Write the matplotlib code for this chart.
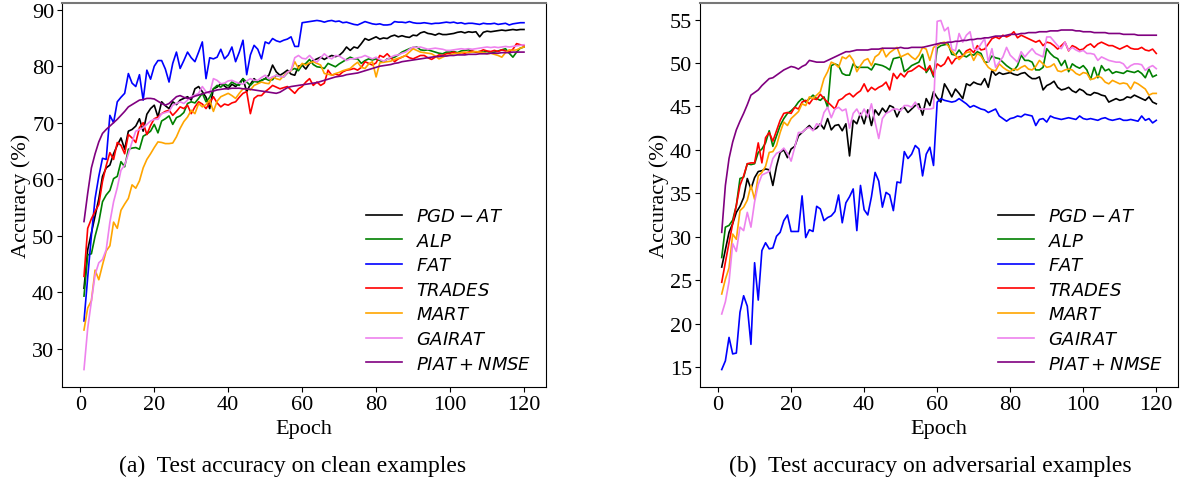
import numpy as np
import matplotlib
matplotlib.use("Agg")
import matplotlib.pyplot as plt

epochs = np.arange(1, 121)

labels = [r'$PGD-AT$', r'$ALP$', r'$FAT$', r'$TRADES$', r'$MART$', r'$GAIRAT$', r'$PIAT+NMSE$']
colors = ['black', 'green', 'blue', 'red', 'orange', 'violet', 'purple']

# ---------------- clean accuracy ----------------
clean_pgd = [40.7, 47.5, 50.5, 53.5, 56.5, 60.5, 62.0, 62.5, 64.5, 66.0,
             67.3, 65.3, 68.5, 68.8, 69.4, 70.7, 68.5, 71.5, 72.5, 73.1,
             71.0, 73.7, 73.0, 72.5, 73.7, 73.2, 74.0, 74.3, 74.6, 74.0,
             76.0, 76.4, 75.5, 74.5, 72.5, 76.0, 76.3, 76.9, 76.5, 76.0,
             76.8, 76.4, 77.0, 77.8, 75.5, 76.8, 77.8, 77.2, 77.5, 77.8,
             78.4, 80.2, 79.0, 78.4, 78.8, 79.3, 78.6, 78.4, 80.0, 80.2,
             79.5, 80.5, 81.0, 81.3, 81.6, 81.2, 81.6, 81.9, 81.7, 81.9,
             82.5, 83.4, 82.8, 83.4, 83.2, 84.0, 84.9, 84.6, 84.9, 85.2,
             84.8, 85.0, 84.9, 85.3, 85.5, 85.2, 85.4, 85.2, 85.1, 85.5,
             85.4, 85.9, 86.1, 85.8, 85.7, 85.5, 85.8, 85.6, 85.6, 85.7,
             85.8, 86.0, 86.1, 85.9, 86.1, 86.0, 86.1, 85.2, 86.0, 86.2,
             86.1, 86.2, 86.3, 86.4, 86.3, 86.4, 86.5, 86.4, 86.5, 86.5]

clean_alp = [39.3, 46.6, 46.8, 49.9, 52.4, 56.0, 57.2, 58.0, 60.1, 60.5,
             63.1, 62.2, 65.3, 65.5, 65.6, 65.3, 67.6, 68.0, 68.5, 69.7,
             68.2, 70.3, 70.7, 71.2, 69.7, 70.9, 71.2, 71.8, 73.4, 73.7,
             73.5, 74.3, 75.2, 73.7, 74.5, 76.0, 76.6, 76.3, 76.9, 76.5,
             77.2, 76.8, 76.6, 77.8, 77.2, 76.6, 77.3, 77.2, 77.5, 77.8,
             77.5, 77.6, 78.4, 78.2, 78.1, 78.8, 79.3, 79.6, 79.2, 80.2,
             80.5, 81.2, 80.3, 79.9, 79.8, 79.6, 80.5, 80.2, 79.9, 80.4,
             80.8, 81.2, 81.6, 81.3, 81.3, 80.5, 81.0, 81.3, 81.1, 81.3,
             81.0, 80.7, 81.3, 81.4, 81.6, 82.0, 82.5, 82.8, 83.1, 83.3,
             83.4, 82.9, 82.8, 82.9, 82.7, 82.5, 82.3, 82.2, 82.5, 82.5,
             82.6, 82.4, 82.7, 82.8, 82.9, 82.6, 82.5, 82.6, 82.5, 82.6,
             82.4, 82.5, 82.7, 82.9, 83.1, 82.3, 81.6, 82.5, 83.2, 83.4]

clean_fat = [34.9, 42.6, 50.0, 56.6, 60.5, 63.7, 63.5, 71.3, 70.0, 73.7,
             74.5, 75.2, 78.7, 77.0, 76.4, 78.5, 74.0, 79.3, 77.7, 80.0,
             81.0, 81.0, 79.5, 77.2, 80.5, 82.5, 79.6, 81.0, 82.5, 81.5,
             80.8, 82.5, 84.3, 77.8, 81.5, 81.3, 81.6, 83.0, 81.3, 82.0,
             83.4, 80.8, 82.5, 84.6, 78.5, 82.0, 83.7, 83.0, 81.3, 84.3,
             84.0, 84.9, 84.5, 84.3, 84.6, 84.8, 85.2, 83.5, 83.5, 87.7,
             87.8, 87.9, 88.0, 88.1, 88.0, 87.8, 88.0, 88.1, 87.9, 88.0,
             87.7, 87.8, 87.6, 87.4, 87.3, 87.6, 87.9, 87.7, 87.5, 87.4,
             87.5, 87.3, 87.3, 87.4, 87.9, 87.8, 87.8, 87.7, 87.9, 87.7,
             87.6, 87.6, 87.7, 87.6, 87.5, 87.6, 87.6, 87.7, 87.8, 87.7,
             87.8, 87.6, 87.7, 87.5, 87.6, 87.6, 87.5, 87.4, 87.6, 87.5,
             87.5, 87.6, 87.4, 87.5, 87.6, 87.3, 87.5, 87.6, 87.7, 87.7]

clean_trades = [42.8, 51.3, 53.0, 54.3, 55.5, 59.6, 62.4, 64.7, 63.5, 66.5,
                66.0, 64.5, 67.9, 67.3, 66.5, 69.1, 70.0, 67.9, 69.5, 70.7,
                71.0, 71.6, 72.0, 72.2, 71.3, 72.0, 72.8, 72.5, 73.1, 71.6,
                72.8, 73.7, 73.3, 72.5, 73.5, 74.6, 73.5, 72.8, 73.3, 73.1,
                73.5, 73.7, 74.5, 75.2, 75.5, 71.6, 74.3, 74.8, 74.8, 75.5,
                76.0, 76.6, 76.3, 76.0, 76.2, 76.4, 75.8, 75.2, 76.0, 76.4,
                77.2, 77.8, 76.6, 77.2, 76.6, 77.0, 79.3, 78.4, 78.6, 78.4,
                79.0, 79.3, 79.4, 79.6, 79.3, 79.8, 80.8, 80.5, 80.2, 80.6,
                81.9, 81.6, 82.2, 81.5, 80.8, 81.3, 81.6, 81.9, 81.5, 81.3,
                81.6, 81.9, 81.9, 81.5, 81.2, 81.6, 82.0, 81.9, 82.2, 82.3,
                82.5, 82.2, 82.4, 82.3, 82.5, 82.7, 82.5, 82.6, 82.9, 82.7,
                82.6, 82.8, 82.6, 82.9, 82.7, 82.5, 83.0, 84.0, 83.8, 83.6]

clean_mart = [33.3, 37.2, 38.5, 43.9, 42.2, 44.8, 47.3, 48.2, 52.4, 51.3,
              54.5, 55.6, 56.6, 59.0, 58.4, 59.7, 62.0, 63.5, 64.5, 65.6,
              66.6, 66.5, 66.3, 66.3, 66.4, 67.5, 69.0, 70.2, 71.0, 72.2,
              71.6, 73.4, 72.8, 73.2, 74.0, 72.0, 73.8, 74.6, 74.9, 75.2,
              74.8, 74.3, 75.2, 76.0, 76.0, 75.8, 76.6, 76.9, 77.2, 77.0,
              76.9, 78.1, 77.8, 77.6, 78.3, 78.9, 79.2, 80.8, 79.6, 80.5,
              80.2, 80.6, 80.8, 80.5, 80.2, 78.7, 78.6, 78.4, 78.7, 78.9,
              79.2, 79.4, 79.6, 80.2, 80.7, 79.8, 79.6, 80.4, 80.8, 78.1,
              80.6, 80.7, 80.8, 80.9, 81.2, 81.4, 81.6, 81.9, 82.5, 83.1,
              82.8, 82.5, 82.4, 82.3, 82.2, 81.8, 81.3, 81.6, 81.9, 82.0,
              82.2, 82.3, 82.4, 82.5, 82.4, 82.5, 82.6, 82.5, 82.4, 82.2,
              82.3, 82.1, 81.9, 81.6, 82.4, 82.9, 82.8, 82.9, 83.2, 83.4]

clean_gairat = [26.3, 33.6, 38.4, 43.1, 45.2, 45.8, 47.5, 52.4, 56.0, 58.5,
                61.6, 62.5, 64.5, 66.6, 68.5, 68.8, 69.1, 69.7, 70.3, 70.6,
                70.6, 71.6, 71.8, 72.0, 73.1, 73.4, 73.7, 73.4, 74.0, 74.6,
                74.9, 75.2, 76.4, 75.5, 75.2, 77.8, 77.5, 76.9, 77.0, 77.4,
                77.5, 77.2, 77.0, 76.8, 77.4, 77.8, 77.5, 77.5, 78.0, 78.4,
                77.8, 78.1, 78.4, 78.2, 78.1, 78.9, 79.3, 81.5, 81.9, 81.4,
                81.3, 81.9, 81.2, 80.7, 81.5, 82.2, 81.6, 81.3, 81.9, 81.8,
                81.4, 81.0, 81.3, 81.3, 81.5, 81.6, 81.9, 81.6, 81.3, 81.6,
                81.2, 80.9, 81.2, 81.6, 81.9, 82.0, 82.3, 82.5, 83.0, 83.4,
                83.3, 83.4, 83.2, 83.0, 83.1, 83.2, 83.1, 83.0, 82.8, 82.8,
                82.9, 83.0, 83.1, 83.0, 83.1, 83.0, 83.1, 83.2, 83.3, 83.4,
                83.3, 83.4, 83.3, 83.4, 83.5, 83.4, 83.5, 83.6, 83.7, 83.8]

clean_piat = [52.5, 57.5, 62.0, 64.5, 66.6, 68.1, 68.8, 69.4, 70.0, 70.6,
              71.3, 72.0, 72.8, 73.2, 73.6, 74.0, 74.1, 74.3, 74.3, 74.2,
              73.8, 73.4, 73.1, 73.4, 74.0, 74.6, 74.8, 74.5, 74.3, 74.4,
              74.7, 74.9, 75.1, 75.3, 75.5, 75.6, 75.8, 75.9, 76.0, 76.0,
              76.1, 76.1, 76.1, 76.0, 76.0, 75.9, 75.8, 75.7, 75.6, 75.5,
              75.4, 75.3, 75.2, 75.4, 75.8, 76.2, 76.4, 76.5, 76.6, 76.7,
              76.8, 76.9, 77.0, 77.1, 77.3, 77.5, 77.7, 77.9, 78.1, 78.2,
              78.3, 78.5, 78.6, 78.7, 78.8, 79.0, 79.2, 79.4, 79.6, 79.8,
              80.0, 80.1, 80.2, 80.3, 80.5, 80.6, 80.8, 80.9, 81.0, 81.1,
              81.2, 81.3, 81.4, 81.5, 81.6, 81.7, 81.7, 81.8, 81.8, 81.9,
              81.9, 82.0, 82.0, 82.0, 82.1, 82.1, 82.1, 82.2, 82.2, 82.2,
              82.3, 82.3, 82.3, 82.4, 82.4, 82.4, 82.5, 82.5, 82.5, 82.5]

# ---------------- adversarial accuracy ----------------
adv_pgd = [26.5, 28.5, 30.5, 31.5, 32.8, 33.5, 34.5, 36.7, 35.5, 36.8,
           37.5, 37.6, 37.8, 37.7, 35.9, 38.1, 39.7, 40.0, 39.1, 40.1,
           40.4, 41.6, 42.0, 42.4, 42.8, 42.3, 42.5, 43.0, 42.4, 43.6,
           42.3, 42.8, 42.9, 42.2, 43.0, 39.3, 43.4, 43.0, 44.2, 43.0,
           44.6, 42.8, 44.6, 44.0, 44.8, 44.3, 45.1, 44.9, 43.8, 44.7,
           44.9, 44.3, 44.7, 45.1, 45.3, 44.0, 45.9, 45.1, 46.7, 46.0,
           45.5, 47.6, 46.9, 46.1, 47.0, 46.5, 45.9, 47.6, 47.4, 47.8,
           47.6, 47.5, 48.2, 47.2, 49.15, 48.6, 48.9, 48.7, 48.8, 48.9,
           48.7, 48.6, 48.8, 48.9, 48.5, 48.2, 48.2, 48.4, 46.9, 47.4,
           47.6, 47.9, 47.2, 46.9, 47.0, 47.2, 46.8, 46.6, 47.0, 46.8,
           46.4, 46.3, 46.6, 46.5, 46.3, 46.2, 45.5, 45.7, 45.9, 45.7,
           45.8, 46.1, 46.0, 46.3, 46.1, 45.9, 45.7, 46.1, 45.5, 45.3]

adv_alp = [27.6, 31.1, 31.3, 31.9, 33.6, 36.7, 36.85, 38.4, 38.3, 38.4,
           39.7, 40.1, 40.8, 42.2, 40.4, 41.6, 42.8, 43.6, 44.2, 44.5,
           44.9, 45.5, 45.9, 45.5, 45.9, 46.3, 45.9, 45.7, 46.1, 44.9,
           49.7, 49.9, 49.7, 48.8, 48.6, 48.6, 49.9, 49.5, 49.5, 49.5,
           49.5, 49.2, 49.9, 49.8, 49.7, 49.5, 49.2, 50.5, 50.6, 50.7,
           49.0, 49.3, 49.7, 49.9, 50.1, 51.0, 48.9, 49.5, 48.4, 51.7,
           52.0, 52.1, 52.2, 51.0, 50.9, 51.5, 50.9, 50.7, 51.0, 50.9,
           51.3, 51.1, 50.1, 50.1, 50.8, 50.6, 50.5, 50.1, 49.7, 49.4,
           49.15, 49.7, 50.9, 50.3, 50.3, 50.1, 49.2, 49.2, 49.5, 51.65,
           51.1, 50.7, 50.5, 49.7, 50.3, 49.0, 49.9, 49.6, 49.4, 49.7,
           49.2, 48.1, 49.5, 48.3, 49.7, 49.1, 49.3, 48.8, 49.0, 48.9,
           48.8, 49.1, 49.0, 48.9, 49.1, 48.8, 48.3, 49.3, 48.4, 48.6]

adv_fat = [14.7, 15.7, 18.4, 16.5, 16.6, 21.3, 23.2, 22.0, 17.6, 27.0,
           22.7, 28.4, 29.3, 28.6, 28.7, 30.05, 30.5, 31.85, 32.5, 30.6,
           30.6, 30.6, 34.7, 29.9, 30.8, 30.6, 33.5, 33.2, 31.85, 32.2,
           32.4, 32.9, 34.8, 31.6, 33.9, 34.6, 35.5, 30.7, 35.9, 33.1,
           32.5, 34.6, 37.4, 36.4, 33.4, 35.1, 34.8, 33.0, 36.3, 36.2,
           39.8, 39.0, 39.5, 40.5, 40.1, 37.0, 39.5, 40.3, 38.2, 45.5,
           45.9, 45.7, 45.6, 45.5, 45.6, 45.9, 45.6, 45.3, 44.9, 45.1,
           44.9, 44.7, 44.6, 44.3, 44.5, 44.7, 43.9, 43.6, 43.3, 43.6,
           43.7, 43.9, 43.8, 44.1, 44.0, 43.9, 42.8, 43.5, 43.6, 43.2,
           43.9, 43.7, 43.6, 43.5, 43.6, 43.7, 43.6, 43.5, 43.9, 43.6,
           43.5, 43.6, 43.5, 43.4, 43.6, 43.7, 43.5, 43.4, 43.5, 43.6,
           43.4, 43.4, 43.5, 43.4, 43.3, 43.9, 43.4, 43.6, 43.1, 43.4]

adv_trades = [24.75, 27.05, 29.3, 31.5, 33.6, 35.9, 37.0, 38.4, 38.5, 38.5,
              40.8, 38.5, 41.4, 42.0, 41.0, 42.2, 43.4, 44.2, 44.3, 44.2,
              44.9, 44.7, 45.5, 45.7, 45.3, 45.9, 45.8, 46.4, 45.9, 45.5,
              45.1, 44.7, 45.7, 45.9, 46.3, 46.5, 46.1, 46.5, 46.8, 47.6,
              46.7, 47.2, 46.9, 47.2, 47.4, 47.8, 46.9, 48.8, 48.2, 48.8,
              48.4, 49.0, 49.1, 49.4, 49.7, 49.4, 49.1, 49.7, 48.6, 49.9,
              49.6, 49.9, 50.7, 49.9, 50.5, 50.7, 50.8, 51.4, 51.6, 51.2,
              52.0, 51.5, 51.6, 52.2, 52.8, 53.0, 52.8, 53.2, 53.0, 53.2,
              53.6, 52.9, 53.2, 53.0, 52.8, 52.6, 52.4, 52.6, 52.0, 52.4,
              52.3, 52.0, 51.6, 52.0, 52.4, 51.4, 52.0, 51.8, 51.5, 51.6,
              52.0, 52.2, 51.8, 52.2, 52.4, 52.2, 52.0, 52.0, 51.8, 51.6,
              51.8, 52.0, 51.7, 51.6, 51.6, 51.8, 51.5, 51.4, 51.6, 51.1]

adv_mart = [23.4, 25.1, 26.4, 30.3, 29.7, 33.0, 33.4, 34.2, 35.9, 34.3,
            37.0, 37.4, 38.1, 39.7, 39.8, 40.5, 42.0, 43.2, 42.8, 43.6,
            44.0, 44.4, 45.3, 45.1, 46.1, 45.9, 46.3, 46.7, 48.2, 49.0,
            50.1, 49.9, 49.5, 50.7, 50.5, 50.9, 50.3, 49.0, 49.7, 50.3,
            50.5, 49.7, 50.7, 51.0, 51.7, 50.7, 51.2, 51.5, 51.8, 50.7,
            50.9, 51.1, 50.7, 50.4, 50.9, 51.8, 51.6, 50.3, 51.8, 52.0,
            52.3, 52.4, 52.0, 51.4, 50.9, 50.4, 50.8, 51.2, 51.3, 50.3,
            51.1, 50.8, 50.1, 49.5, 49.2, 49.1, 49.9, 49.5, 49.2, 49.0,
            49.3, 49.2, 49.5, 49.7, 49.3, 49.2, 49.6, 50.3, 49.9, 49.5,
            49.6, 49.9, 49.1, 49.0, 49.2, 49.3, 49.2, 48.8, 48.6, 48.9,
            48.8, 48.1, 48.2, 48.5, 48.3, 47.8, 47.6, 48.0, 47.8, 47.6,
            47.7, 47.6, 47.0, 47.8, 47.6, 47.3, 47.0, 46.3, 46.5, 46.5]

adv_gairat = [21.1, 22.5, 24.8, 29.2, 28.3, 31.1, 30.7, 32.8, 31.1, 34.0,
              36.0, 37.1, 37.3, 37.5, 39.0, 39.6, 39.8, 40.2, 39.6, 38.7,
              40.3, 42.0, 42.0, 42.4, 42.6, 42.2, 43.0, 42.8, 44.3, 44.9,
              43.7, 44.7, 44.9, 44.5, 44.7, 42.5, 44.2, 44.7, 43.9, 44.7,
              43.8, 45.3, 43.2, 41.3, 43.6, 44.2, 44.4, 44.7, 44.7, 44.5,
              45.1, 45.1, 44.9, 45.5, 44.7, 44.7, 44.7, 44.7, 44.8, 54.8,
              54.9, 53.7, 54.1, 51.6, 51.4, 53.4, 52.4, 53.2, 53.6, 51.65,
              51.5, 52.2, 52.8, 50.1, 51.65, 49.5, 50.1, 50.7, 51.8, 50.9,
              50.5, 50.1, 51.3, 50.7, 51.2, 51.65, 51.1, 50.9, 50.7, 53.0,
              53.0, 52.5, 52.0, 51.65, 52.4, 51.45, 51.8, 51.5, 51.3, 51.45,
              51.1, 51.1, 51.0, 50.3, 50.7, 50.5, 50.3, 50.2, 50.1, 50.1,
              49.9, 49.35, 49.7, 49.9, 49.9, 49.8, 49.15, 49.5, 49.7, 49.35]

adv_piat = [30.5, 35.9, 39.0, 40.9, 42.3, 43.3, 44.2, 45.2, 46.3, 46.6,
            46.9, 47.4, 47.8, 48.2, 48.3, 48.6, 48.9, 49.2, 49.4, 49.6,
            49.5, 49.3, 49.6, 49.8, 50.3, 50.2, 50.1, 50.1, 50.1, 50.3,
            50.5, 50.7, 50.9, 51.1, 51.3, 51.3, 51.4, 51.5, 51.5, 51.5,
            51.5, 51.6, 51.6, 51.6, 51.7, 51.7, 51.7, 51.7, 51.7, 51.8,
            51.7, 51.7, 51.8, 51.8, 51.8, 51.8, 51.9, 52.0, 52.1, 52.2,
            52.3, 52.3, 52.4, 52.4, 52.5, 52.5, 52.6, 52.6, 52.7, 52.7,
            52.8, 52.8, 52.9, 52.9, 53.0, 53.1, 53.1, 53.1, 53.2, 53.3,
            53.3, 53.3, 53.4, 53.4, 53.5, 53.5, 53.5, 53.6, 53.6, 53.6,
            53.7, 53.7, 53.7, 53.8, 53.8, 53.8, 53.8, 53.7, 53.7, 53.6,
            53.6, 53.6, 53.5, 53.5, 53.5, 53.5, 53.4, 53.4, 53.4, 53.4,
            53.3, 53.3, 53.3, 53.3, 53.2, 53.2, 53.2, 53.2, 53.2, 53.2]

clean = [clean_pgd, clean_alp, clean_fat, clean_trades, clean_mart, clean_gairat, clean_piat]
adv = [adv_pgd, adv_alp, adv_fat, adv_trades, adv_mart, adv_gairat, adv_piat]

plt.rcParams['font.family'] = ['Liberation Serif', 'DejaVu Serif']
plt.rcParams['mathtext.fontset'] = 'dejavusans'

fig = plt.figure(figsize=(11.81, 4.85), dpi=100)
ax1 = fig.add_axes([62 / 1181, 1 - 388 / 485, 484 / 1181, 384 / 485])
ax2 = fig.add_axes([700 / 1181, 1 - 388 / 485, 478 / 1181, 384 / 485])

for ax, data, ticks in [(ax1, clean, [30, 40, 50, 60, 70, 80, 90]),
                        (ax2, adv, [15, 20, 25, 30, 35, 40, 45, 50, 55])]:
    for vals, c, lab in zip(data, colors, labels):
        ax.plot(epochs, vals, color=c, lw=1.2, label=lab)
    ax.set_xticks([0, 20, 40, 60, 80, 100, 120])
    ax.set_yticks(ticks)
    ax.tick_params(labelsize=16, pad=2)
    ax.set_xlabel('Epoch', fontsize=16, labelpad=4)
    ax.set_ylabel('Accuracy (%)', fontsize=16, labelpad=1)
    ax.spines['top'].set_color('#777777')
    ax.spines['top'].set_linewidth(1.5)
    leg = ax.legend(loc='lower right', frameon=False, fontsize=13,
                    handlelength=2.0, labelspacing=0.42, borderaxespad=0.4)

fig.text(293 / 1181, 1 - 466 / 485, '(a)  Test accuracy on clean examples',
         ha='center', va='center', fontsize=17)
fig.text(930 / 1181, 1 - 466 / 485, '(b)  Test accuracy on adversarial examples',
         ha='center', va='center', fontsize=17)

fig.savefig('out.png', dpi=100)
